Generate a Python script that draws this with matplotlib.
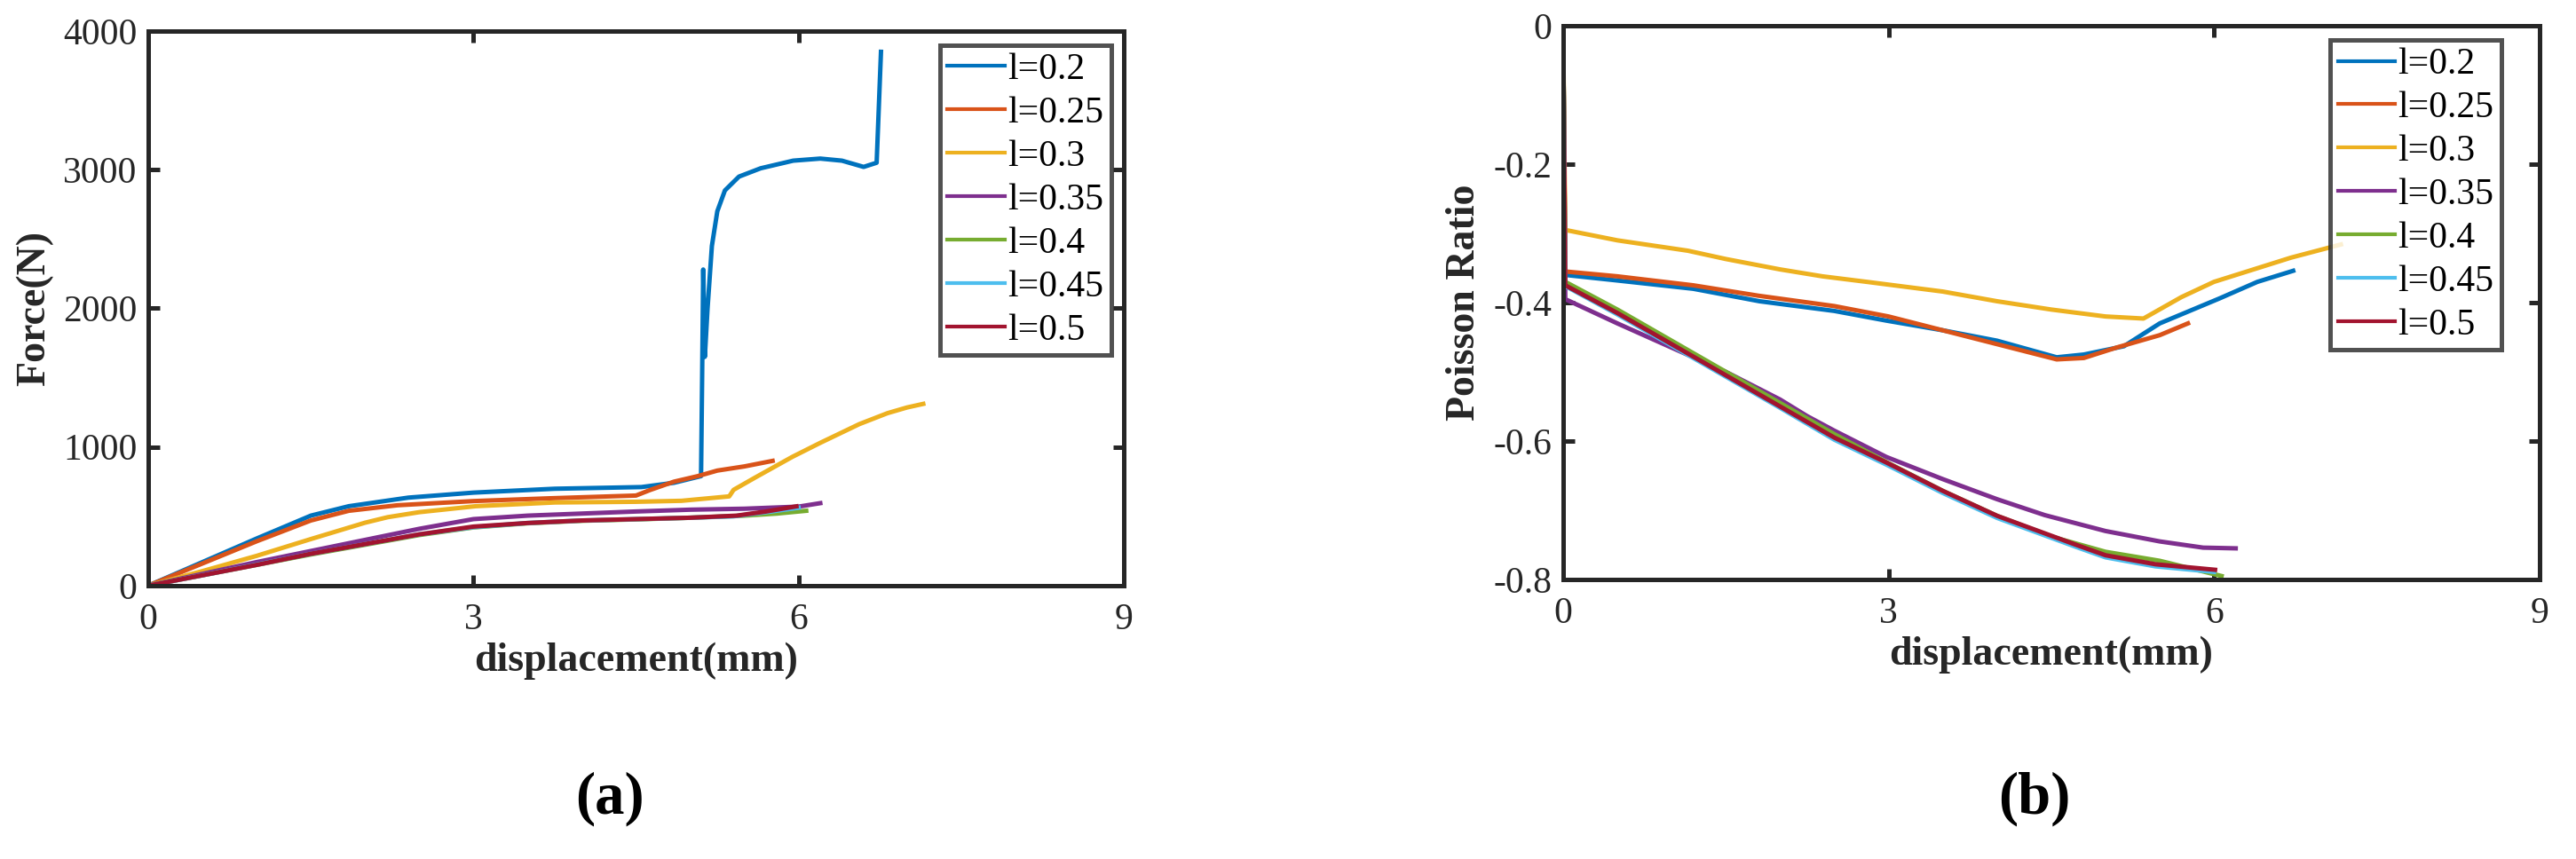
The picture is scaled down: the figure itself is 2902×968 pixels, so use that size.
import matplotlib
matplotlib.use('Agg')
import matplotlib.pyplot as plt

# --- 数据 ---
labels = ['l=0.2', 'l=0.25', 'l=0.3', 'l=0.35', 'l=0.4', 'l=0.45', 'l=0.5']
colors = ['#0072BD', '#D95319', '#EDB120', '#7E2F8E', '#77AC30', '#4DBEEE', '#A2142F']

# (a) Force vs displacement
f_x02 = [0, 0.5, 1.0, 1.5, 1.85, 2.4, 3.0, 3.75, 4.55, 4.85, 5.10, 5.11, 5.12, 5.135, 5.16, 5.2,
         5.25, 5.32, 5.45, 5.65, 5.95, 6.2, 6.4, 6.6, 6.68, 6.72, 6.76]
f_y02 = [0, 170, 340, 505, 573, 635, 671, 699, 711, 742, 790, 1500, 2280, 1650, 2000, 2450,
         2700, 2850, 2950, 3010, 3065, 3080, 3065, 3020, 3040, 3050, 3850]
f_x025 = [0, 0.5, 1.0, 1.5, 1.85, 2.3, 3.0, 3.7, 4.5, 4.63, 4.85, 5.07, 5.25, 5.5, 5.76]
f_y025 = [0, 160, 320, 470, 540, 580, 610, 630, 650, 690, 750, 790, 830, 860, 900]
f_x03 = [0, 0.5, 1.0, 1.5, 2.0, 2.21, 2.5, 3.02, 3.75, 4.5, 4.92, 5.36, 5.4, 5.6, 5.94, 6.2,
         6.56, 6.82, 7.0, 7.15]
f_y03 = [0, 105, 215, 336, 454, 494, 530, 573, 600, 605, 612, 644, 691, 780, 928, 1030,
         1165, 1244, 1285, 1311]
f_x035 = [0, 0.5, 1.0, 1.5, 2.0, 2.5, 3.0, 3.5, 4.0, 4.5, 5.0, 5.5, 6.0, 6.2]
f_y035 = [0, 85, 170, 250, 330, 410, 480, 505, 520, 535, 548, 555, 570, 595]
f_x04 = [0, 0.5, 1.0, 1.5, 2.0, 2.5, 3.0, 3.5, 4.0, 4.5, 5.0, 5.5, 5.8, 6.07]
f_y04 = [0, 75, 150, 225, 295, 365, 420, 450, 468, 478, 490, 505, 520, 540]
f_x045 = [0, 0.5, 1.0, 1.5, 2.0, 2.5, 3.0, 3.5, 4.0, 4.5, 5.0, 5.4, 5.7, 6.0]
f_y045 = [0, 75, 152, 230, 300, 370, 422, 452, 470, 480, 490, 500, 530, 562]
f_x05 = [0, 0.5, 1.0, 1.5, 2.0, 2.5, 3.0, 3.5, 4.0, 4.5, 5.0, 5.43, 5.7, 5.98]
f_y05 = [0, 75, 150, 230, 300, 370, 426, 452, 470, 480, 490, 505, 535, 572]

# (b) Poisson ratio vs displacement
p_x02 = [0, 0.02, 0.5, 1.2, 1.81, 2.5, 2.98, 3.5, 4.0, 4.55, 4.8, 5.17, 5.5, 6.05, 6.4, 6.73]
p_y02 = [0, -0.36, -0.368, -0.38, -0.398, -0.412, -0.426, -0.44, -0.455, -0.479, -0.475,
         -0.463, -0.43, -0.394, -0.37, -0.354]
p_x025 = [0, 0.02, 0.5, 1.2, 1.8, 2.5, 3.0, 3.5, 4.0, 4.55, 4.8, 5.1, 5.5, 5.76]
p_y025 = [0, -0.355, -0.362, -0.375, -0.39, -0.405, -0.42, -0.44, -0.46, -0.482, -0.48,
          -0.465, -0.447, -0.43]
p_x03 = [0, 0.02, 0.5, 1.15, 1.5, 2.0, 2.39, 2.8, 3.5, 4.0, 4.5, 5.0, 5.35, 5.7, 6.0, 6.71, 7.17]
p_y03 = [0, -0.295, -0.31, -0.325, -0.337, -0.352, -0.362, -0.37, -0.384, -0.398, -0.41,
         -0.42, -0.423, -0.392, -0.37, -0.335, -0.316]
p_x035 = [0, 0.02, 0.5, 1.0, 1.5, 2.0, 2.25, 2.5, 2.98, 3.5, 4.0, 4.44, 5.0, 5.5, 5.9, 6.2]
p_y035 = [0, -0.395, -0.43, -0.465, -0.5, -0.54, -0.564, -0.585, -0.623, -0.655, -0.684,
          -0.707, -0.73, -0.745, -0.754, -0.755]
p_x04 = [0, 0.02, 0.5, 1.0, 1.5, 2.0, 2.5, 3.0, 3.5, 4.0, 4.5, 5.0, 5.5, 6.07]
p_y04 = [0, -0.37, -0.41, -0.455, -0.5, -0.545, -0.59, -0.632, -0.672, -0.708, -0.738,
         -0.76, -0.773, -0.795]
p_x045 = [0, 0.02, 0.5, 1.0, 1.5, 2.0, 2.5, 2.98, 3.5, 4.0, 4.73, 5.0, 5.46, 6.0]
p_y045 = [0, -0.376, -0.417, -0.462, -0.507, -0.552, -0.598, -0.634, -0.675, -0.711, -0.753,
          -0.768, -0.781, -0.789]
p_x05 = [0, 0.02, 0.5, 1.0, 1.5, 2.0, 2.5, 2.98, 3.5, 4.0, 4.73, 5.0, 5.46, 6.01]
p_y05 = [0, -0.375, -0.415, -0.46, -0.505, -0.55, -0.595, -0.631, -0.672, -0.708, -0.75,
         -0.765, -0.778, -0.786]

force_x = [f_x02, f_x025, f_x03, f_x035, f_x04, f_x045, f_x05]
force_y = [f_y02, f_y025, f_y03, f_y035, f_y04, f_y045, f_y05]
pois_x = [p_x02, p_x025, p_x03, p_x035, p_x04, p_x045, p_x05]
pois_y = [p_y02, p_y025, p_y03, p_y035, p_y04, p_y045, p_y05]

x_ticks = [0, 3, 6, 9]
force_ticks = [0, 1000, 2000, 3000, 4000]
pois_ticks = [0, -0.2, -0.4, -0.6, -0.8]
pois_tick_labels = ['0', '-0.2', '-0.4', '-0.6', '-0.8']

# --- 样式 ---
plt.rcParams['font.family'] = ['Liberation Serif', 'DejaVu Serif']
plt.rcParams['axes.unicode_minus'] = False
axis_color = '#262626'

fig = plt.figure(figsize=(29.02, 9.68), dpi=100)
ax_a = fig.add_axes([0.05755, 0.3182, 0.3787, 0.6457])
ax_b = fig.add_axes([0.6068, 0.3254, 0.3790, 0.6446])


def style_axes(ax):
    for sp in ax.spines.values():
        sp.set_linewidth(3.6)
        sp.set_color(axis_color)
    ax.tick_params(direction='in', length=9, width=3.6, color=axis_color,
                   top=True, right=True, labelsize=30, labelcolor=axis_color)
    ax.tick_params(axis='y', pad=9)
    ax.tick_params(axis='x', pad=14)
    ax.set_xlim(0, 9)
    ax.set_xticks(x_ticks)
    ax.set_xlabel('displacement(mm)', fontsize=33, fontweight='bold', color=axis_color, labelpad=4)


# --- (a) ---
for xs, ys, c, lab in zip(force_x, force_y, colors, labels):
    ax_a.plot(xs, ys, color=c, lw=3.6, label=lab)
style_axes(ax_a)
ax_a.set_ylim(0, 4000)
ax_a.set_yticks(force_ticks)
ax_a.set_ylabel('Force(N)', fontsize=33, fontweight='bold', color=axis_color, labelpad=8)

# --- (b) ---
for xs, ys, c, lab in zip(pois_x, pois_y, colors, labels):
    ax_b.plot(xs, ys, color=c, lw=3.6, label=lab)
style_axes(ax_b)
ax_b.set_ylim(-0.8, 0)
ax_b.set_yticks(pois_ticks)
ax_b.set_yticklabels(pois_tick_labels)
ax_b.set_ylabel('Poisson Ratio', fontsize=33, fontweight='bold', color=axis_color, labelpad=8)

# 图例
for ax, anchor in [(ax_a, (0.987, 0.974)), (ax_b, (0.961, 0.974))]:
    leg = ax.legend(loc='upper right', bbox_to_anchor=anchor, fontsize=30, frameon=True,
                    fancybox=False, handlelength=1.55, handletextpad=0.08,
                    labelspacing=0.25, borderpad=0.2, borderaxespad=0)
    leg.get_frame().set_edgecolor(axis_color)
    leg.get_frame().set_linewidth(3.6)
    for line in leg.get_lines():
        line.set_linewidth(3.0)

# 子图编号
fig.text(687 / 2902, 1 - 900 / 968, '(a)', fontsize=48, fontweight='bold', ha='center', va='center')
fig.text(2292 / 2902, 1 - 900 / 968, '(b)', fontsize=48, fontweight='bold', ha='center', va='center')

fig.savefig('out.png', dpi=100)
plt.close(fig)
